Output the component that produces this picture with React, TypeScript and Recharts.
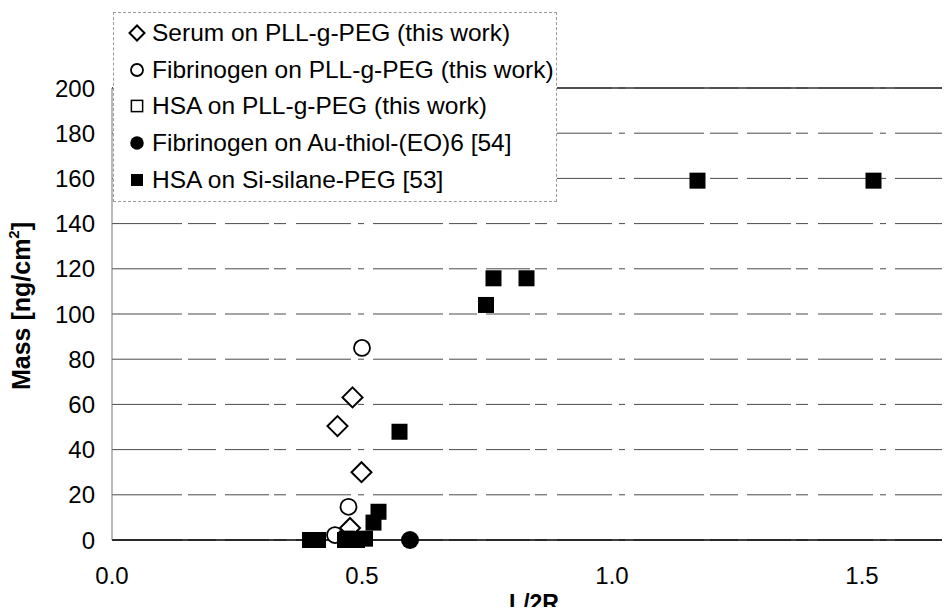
import {
  CartesianGrid,
  Label,
  Legend,
  ReferenceLine,
  Scatter,
  ScatterChart,
  XAxis,
  YAxis,
} from "recharts";

// series names, in legend order
const seriesNames = [
  "Serum on PLL-g-PEG (this work)",
  "Fibrinogen on PLL-g-PEG (this work)",
  "HSA on PLL-g-PEG (this work)",
  "Fibrinogen on Au-thiol-(EO)6 [54]",
  "HSA on Si-silane-PEG [53]",
];

// L/2R vs adsorbed mass (ng/cm2)
const serumX = [0.451, 0.481, 0.499, 0.476];
const serumY = [50.4, 63.1, 30, 5.3];

const fibPllX = [0.5, 0.473, 0.446];
const fibPllY = [85, 14.7, 2.2];

const hsaPllX = [0.47];
const hsaPllY = [0.5];

const fibAuX = [0.596];
const fibAuY = [0];

const hsaSiX = [0.396, 0.412, 0.466, 0.49, 0.506, 0.523, 0.533, 0.575, 0.748, 0.763, 0.829, 1.171, 1.523];
const hsaSiY = [0, 0, 0, 0, 0.6, 7.7, 12.5, 47.9, 104, 115.8, 115.8, 159, 159];

const xTicks = [0, 0.5, 1.0, 1.5];
const yTicks = [0, 20, 40, 60, 80, 100, 120, 140, 160, 180, 200];

const FONT = '"Liberation Sans", Arial, Helvetica, sans-serif';

const toPoints = (xs: number[], ys: number[]) => xs.map((x, i) => ({ x, y: ys[i] }));

type Kind = "diamond" | "circle" | "square" | "dot" | "block";

const markerKinds: Kind[] = ["diamond", "circle", "square", "dot", "block"];

// one marker drawer, used by the plot and the legend (s = scale)
const Marker = ({ kind, cx, cy, s = 1 }: { kind: Kind; cx: number; cy: number; s?: number }) => {
  if (kind === "diamond") {
    const r = 10 * s;
    return (
      <path
        d={`M${cx},${cy - r}L${cx + r},${cy}L${cx},${cy + r}L${cx - r},${cy}Z`}
        fill="#fff"
        stroke="#000"
        strokeWidth={2}
      />
    );
  }
  if (kind === "circle") {
    return <circle cx={cx} cy={cy} r={8 * s} fill="#fff" stroke="#000" strokeWidth={1.8} />;
  }
  if (kind === "square") {
    const h = 7.5 * s;
    return <rect x={cx - h} y={cy - h} width={2 * h} height={2 * h} fill="#fff" stroke="#000" strokeWidth={1.5} />;
  }
  if (kind === "dot") {
    return <circle cx={cx} cy={cy} r={9 * s} fill="#000" />;
  }
  const h = 8 * s;
  return <rect x={cx - h} y={cy - h} width={2 * h} height={2 * h} fill="#000" />;
};

const shapeFor = (kind: Kind) => (props: any) => <Marker kind={kind} cx={props.cx} cy={props.cy} />;

// legend keeps the original series order (recharts would sort it by name)
const renderLegend = () => (
  <div
    style={{
      boxSizing: "border-box",
      width: 444,
      height: 190,
      background: "#fff",
      border: "1px dashed #9a9a9a",
      padding: "2px 0 0 13px",
      fontFamily: FONT,
      fontSize: 24.5,
      color: "#000",
    }}
  >
    {seriesNames.map((name, idx) => (
      <div key={name} style={{ display: "flex", alignItems: "center", height: 36.6, whiteSpace: "nowrap" }}>
        <svg width={20} height={20} style={{ marginRight: 5, flex: "none" }}>
          <Marker kind={markerKinds[idx]} cx={10} cy={10} s={0.75} />
        </svg>
        <span>{name}</span>
      </div>
    ))}
  </div>
);

const yTitle = (props: any) => {
  const vb = props.viewBox ?? { x: 0, y: 88, width: 112, height: 452 };
  const cx = vb.x + 21;
  const cy = vb.y + vb.height / 2 - 8;
  return (
    <text
      transform={`translate(${cx},${cy}) rotate(-90)`}
      textAnchor="middle"
      dominantBaseline="central"
      fontFamily={FONT}
      fontWeight="bold"
      fontSize={25}
      fill="#000"
    >
      Mass [ng/cm
      <tspan dy={-8} fontSize={15}>
        2
      </tspan>
      <tspan dy={8}>]</tspan>
    </text>
  );
};

const xTitle = (props: any) => {
  const vb = props.viewBox ?? { x: 112, y: 540, width: 838, height: 75 };
  return (
    <text
      x={vb.x + vb.width / 2 + 3}
      y={vb.y + 71}
      textAnchor="middle"
      fontFamily={FONT}
      fontWeight="bold"
      fontSize={23}
      fill="#000"
    >
      L/2R
    </text>
  );
};

const tickStyle = { fontSize: 24, fill: "#000", fontFamily: FONT };

export default function App() {
  const series = [
    toPoints(serumX, serumY),
    toPoints(fibPllX, fibPllY),
    toPoints(hsaPllX, hsaPllY),
    toPoints(fibAuX, fibAuY),
    toPoints(hsaSiX, hsaSiY),
  ];

  return (
    <div style={{ margin: -8, width: 950, height: 615, background: "#fff", overflow: "hidden" }}>
      <ScatterChart width={950} height={615} margin={{ top: 88, right: 0, bottom: 0, left: 0 }}>
        <CartesianGrid
          horizontal
          vertical={false}
          stroke="#4a4a4a"
          strokeWidth={1}
          strokeDasharray="70 6 28 9 44 5 12 10 55 7 6 9"
        />
        <XAxis
          type="number"
          dataKey="x"
          domain={[0, 1.676]}
          ticks={xTicks}
          allowDataOverflow
          tickFormatter={(v: number) => v.toFixed(1)}
          tick={tickStyle}
          tickLine={false}
          tickSize={0}
          tickMargin={27}
          axisLine={{ stroke: "#000", strokeWidth: 1.6 }}
          height={75}
          label={<Label content={xTitle} />}
        />
        <YAxis
          type="number"
          dataKey="y"
          domain={[0, 200]}
          ticks={yTicks}
          interval={0}
          tick={tickStyle}
          tickLine={false}
          tickSize={0}
          tickMargin={17}
          axisLine={{ stroke: "#777", strokeWidth: 1 }}
          width={112}
          label={<Label content={yTitle} />}
        />
        <ReferenceLine y={200} stroke="#333" strokeWidth={1.3} />
        <Legend
          layout="vertical"
          align="center"
          verticalAlign="middle"
          content={renderLegend}
          wrapperStyle={{ left: 113, top: 12, width: 444, height: 190 }}
        />
        {series.map((data, i) => (
          <Scatter
            key={seriesNames[i]}
            name={seriesNames[i]}
            data={data}
            shape={shapeFor(markerKinds[i])}
            isAnimationActive={false}
          />
        ))}
      </ScatterChart>
    </div>
  );
}
